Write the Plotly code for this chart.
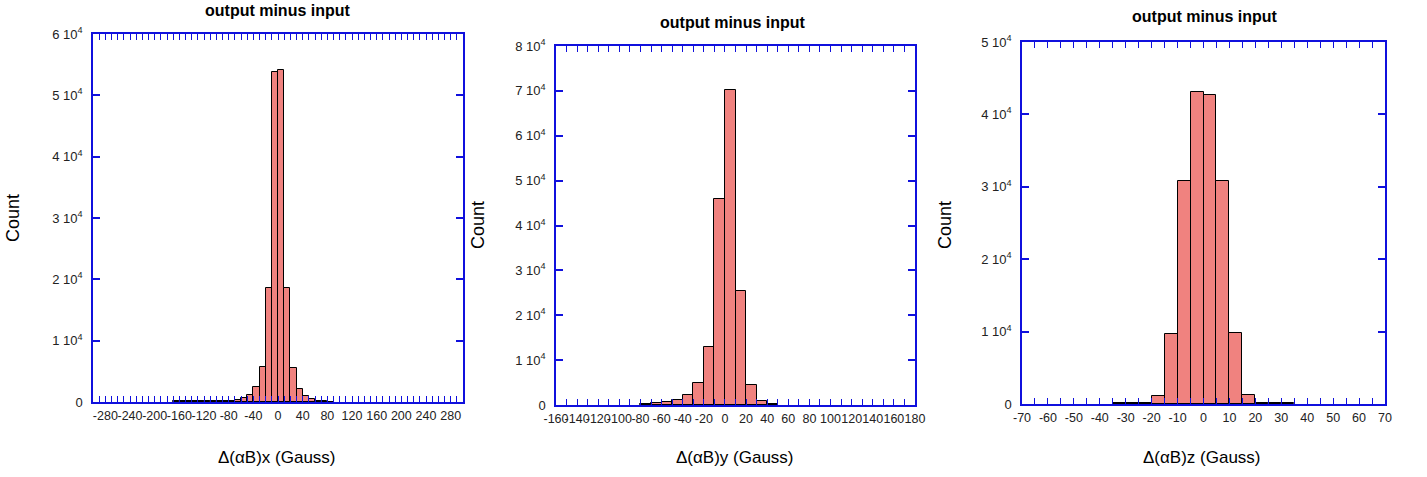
import plotly.graph_objects as go

W, H = 1427, 477

# ---------------- data ----------------
# Panel 1: delta (alpha B)x, bins of width 10, left edges
x1_left = [-170, -160, -150, -140, -130, -120, -110, -100, -90, -80, -70, -60, -50, -40, -30,
           -20, -10, 0, 10, 20, 30, 40, 50, 60, 70, 80]
x1_count = [180, 120, 130, 150, 140, 160, 150, 170, 180, 200, 330, 620, 1140, 2450, 5760,
            18650, 53800, 54100, 18650, 5500, 2070, 980, 440, 200, 110, 80]
x1_width = 10

# Panel 2: delta (alpha B)y
x2_left = [-80, -70, -60, -50, -40, -30, -20, -10, 0, 10, 20, 30, 40]
x2_count = [200, 450, 670, 1110, 2230, 4900, 12900, 46000, 70300, 25400, 4400, 850, 150]
x2_width = 10

# Panel 3: delta (alpha B)z
x3_left = [-35, -30, -25, -20, -15, -10, -5, 0, 5, 10, 15, 20, 25, 30]
x3_count = [120, 130, 150, 1100, 9700, 30800, 43100, 42700, 30800, 9800, 1190, 150, 120, 100]
x3_width = 5

# tick labels
x1_ticks = list(range(-290, 291, 10))
x1_labels = [str(v) if v % 40 == 0 else "" for v in x1_ticks]
x2_ticks = list(range(-160, 181, 10))
x2_labels = [str(v) if v % 20 == 0 else "" for v in x2_ticks]
x3_ticks = list(range(-70, 71, 5))
x3_labels = [str(v) if v % 10 == 0 else "" for v in x3_ticks]

y1_ticks = [0, 10000, 20000, 30000, 40000, 50000, 60000]
y2_ticks = [0, 10000, 20000, 30000, 40000, 50000, 60000, 70000, 80000]
y3_ticks = [0, 10000, 20000, 30000, 40000, 50000]
def ylab(vals):
    return ["0" if v == 0 else f"{v // 10000} 10<sup>4</sup>" for v in vals]

x_titles = ["\u0394(\u03b1B)x (Gauss)", "\u0394(\u03b1B)y (Gauss)", "\u0394(\u03b1B)z (Gauss)"]
panel_title = "output minus input"

# ---------------- layout geometry (pixels) ----------------
boxes = [(93, 463, 34, 402), (556, 915, 46, 405), (1022, 1385, 42, 404)]
xranges = [(-300, 300), (-160, 180), (-70, 70)]
yranges = [(0, 60000), (0, 80000), (0, 50000)]
title_pos = [(278, 11), (733, 22), (1205, 16)]
xtitle_pos = [(277, 457), (735, 457), (1202, 457)]
ytitle_pos = [(13, 218), (478, 225), (945, 225)]

FONT = "Liberation Sans, Arial, Helvetica, sans-serif"
BLUE = "#1010dd"
BAR = "#f0827f"
TXT = "#222"

fig = go.Figure()
data = [(x1_left, x1_count, x1_width), (x2_left, x2_count, x2_width), (x3_left, x3_count, x3_width)]
for i, (lefts, counts, w) in enumerate(data):
    sfx = "" if i == 0 else str(i + 1)
    fig.add_trace(go.Bar(
        x=lefts, y=counts, width=[w] * len(lefts), offset=0,
        marker=dict(color=BAR, line=dict(color="black", width=1)),
        xaxis="x" + sfx, yaxis="y" + sfx, showlegend=False,
    ))

layout = dict(
    width=W, height=H, autosize=False,
    margin=dict(l=0, r=0, t=0, b=0, autoexpand=False),
    paper_bgcolor="white", plot_bgcolor="white",
    bargap=0, font=dict(family=FONT, size=12, color=TXT),
    annotations=[],
)
xt = [(x1_ticks, x1_labels), (x2_ticks, x2_labels), (x3_ticks, x3_labels)]
yt = [y1_ticks, y2_ticks, y3_ticks]
for i in range(3):
    sfx = "" if i == 0 else str(i + 1)
    l, r, t, b = boxes[i]
    layout["xaxis" + sfx] = dict(
        domain=[l / W, r / W], range=list(xranges[i]), anchor="y" + sfx,
        tickmode="array", tickvals=xt[i][0], ticktext=xt[i][1], tickangle=0,
        ticks="inside", ticklen=6, tickwidth=1, tickcolor=BLUE,
        showline=True, linecolor=BLUE, linewidth=1.5, mirror="ticks",
        showgrid=False, zeroline=False, ticklabelstandoff=1, automargin=False,
        tickfont=dict(size=12.5, color=TXT, family=FONT),
    )
    layout["yaxis" + sfx] = dict(
        domain=[1 - b / H, 1 - t / H], range=list(yranges[i]), anchor="x" + sfx,
        tickmode="array", tickvals=yt[i], ticktext=ylab(yt[i]),
        ticks="inside", ticklen=7, tickwidth=1.5, tickcolor=BLUE,
        showline=True, linecolor=BLUE, linewidth=1.5, mirror="ticks",
        showgrid=False, zeroline=False, ticklabelstandoff=6, automargin=False,
        tickfont=dict(size=13, color=TXT, family=FONT),
    )
    layout["annotations"].append(dict(
        text="<b>" + panel_title + "</b>", x=title_pos[i][0] / W, y=1 - title_pos[i][1] / H,
        xref="paper", yref="paper", showarrow=False, xanchor="center", yanchor="middle",
        font=dict(size=16, color="black", family=FONT)))
    layout["annotations"].append(dict(
        text=x_titles[i], x=xtitle_pos[i][0] / W, y=1 - xtitle_pos[i][1] / H,
        xref="paper", yref="paper", showarrow=False, xanchor="center", yanchor="middle",
        font=dict(size=17, color="black", family=FONT)))
    layout["annotations"].append(dict(
        text="Count", x=ytitle_pos[i][0] / W, y=1 - ytitle_pos[i][1] / H, textangle=-90,
        xref="paper", yref="paper", showarrow=False, xanchor="center", yanchor="middle",
        font=dict(size=18, color="black", family=FONT)))

fig.update_layout(**layout)
fig.write_html("out.html", config={"displayModeBar": False},
               post_script="document.body.style.margin='0';")
